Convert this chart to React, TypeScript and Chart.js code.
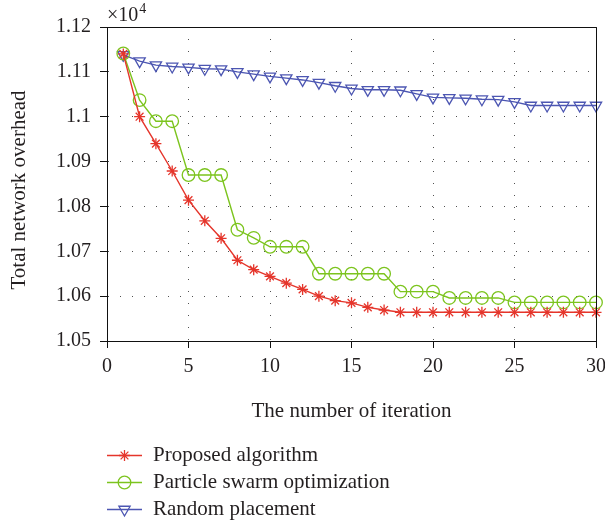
import React, { useEffect, useRef } from 'react';
import { Chart, registerables } from 'chart.js';
import { drawPoint } from 'chart.js/helpers';

Chart.register(...registerables);

// ---- data ----
const iterations = [1, 2, 3, 4, 5, 6, 7, 8, 9, 10, 11, 12, 13, 14, 15, 16, 17, 18, 19, 20, 21, 22, 23, 24, 25, 26, 27, 28, 29, 30];
const proposedAlgorithm = [1.1140, 1.1000, 1.0940, 1.0879, 1.0814, 1.0768, 1.0729, 1.0680, 1.0659, 1.0644, 1.0629, 1.0615, 1.0600, 1.0590, 1.0585, 1.0575, 1.0569, 1.0564, 1.0564, 1.0564, 1.0564, 1.0564, 1.0564, 1.0564, 1.0564, 1.0564, 1.0564, 1.0564, 1.0564, 1.0564];
const particleSwarm = [1.1141, 1.1037, 1.0990, 1.0990, 1.0870, 1.0870, 1.0870, 1.0748, 1.0730, 1.0710, 1.0710, 1.0710, 1.0650, 1.0650, 1.0650, 1.0650, 1.0650, 1.0610, 1.0610, 1.0610, 1.0596, 1.0596, 1.0596, 1.0596, 1.0586, 1.0586, 1.0586, 1.0586, 1.0586, 1.0586];
const randomPlacement = [1.1138, 1.1124, 1.1115, 1.1112, 1.1110, 1.1107, 1.1106, 1.1100, 1.1095, 1.1090, 1.1086, 1.1082, 1.1076, 1.1069, 1.1063, 1.1060, 1.1060, 1.1059, 1.1051, 1.1043, 1.1042, 1.1041, 1.1039, 1.1038, 1.1033, 1.1025, 1.1025, 1.1025, 1.1025, 1.1025];
const seriesNames = ['Proposed algorithm', 'Particle swarm optimization', 'Random placement'];
const xTicks = [0, 5, 10, 15, 20, 25, 30];
const yTicks = [1.05, 1.06, 1.07, 1.08, 1.09, 1.1, 1.11, 1.12];
const yTickLabels = ['1.05', '1.06', '1.07', '1.08', '1.09', '1.1', '1.11', '1.12'];
const yMultiplierBase = '×10';
const yMultiplierExp = '4';
const xTitle = 'The number of iteration';
const yTitle = 'Total network overhead';

// ---- style ----
const FONT = '"Liberation Serif", "Times New Roman", serif';
const TEXT = '#231f20';
const RED = '#e5352b';
const GREEN = '#7cc41e';
const BLUE = '#4c56b2';
const GRID = 'rgba(50,50,50,0.85)';

const toPoints = (ys: number[]) => ys.map((y, i) => ({ x: iterations[i], y }));

const framePlugin = {
  id: 'frame',
  afterDraw(chart: any) {
    const { ctx, chartArea } = chart;
    ctx.save();
    ctx.setLineDash([]);
    ctx.strokeStyle = '#111';
    ctx.lineWidth = 1;
    ctx.beginPath();
    ctx.moveTo(Math.round(chartArea.left) + 0.5, Math.round(chartArea.top) + 0.5);
    ctx.lineTo(Math.round(chartArea.right) + 0.5, Math.round(chartArea.top) + 0.5);
    ctx.lineTo(Math.round(chartArea.right) + 0.5, Math.round(chartArea.bottom) + 0.5);
    ctx.stroke();
    // multiplier
    ctx.fillStyle = TEXT;
    ctx.textBaseline = 'alphabetic';
    ctx.textAlign = 'left';
    ctx.font = `20px ${FONT}`;
    const x0 = chartArea.left;
    ctx.fillText(yMultiplierBase, x0, 21);
    const w = ctx.measureText(yMultiplierBase).width;
    ctx.font = `14px ${FONT}`;
    ctx.fillText(yMultiplierExp, x0 + w + 1, 13);
    // y axis title
    ctx.save();
    ctx.translate(25, 190);
    ctx.rotate(-Math.PI / 2);
    ctx.font = `21px ${FONT}`;
    ctx.textAlign = 'center';
    ctx.textBaseline = 'alphabetic';
    ctx.fillText(yTitle, 0, 0);
    ctx.restore();
    ctx.restore();
  },
};

const legendPlugin = {
  id: 'customLegend',
  afterDraw(chart: any) {
    const { ctx, chartArea } = chart;
    ctx.save();
    chart.data.datasets.forEach((ds: any, i: number) => {
      const y = 455.5 + i * 27;
      const x1 = chartArea.left;
      const x2 = x1 + 35;
      ctx.strokeStyle = ds.borderColor;
      ctx.lineWidth = ds.borderWidth;
      ctx.setLineDash([]);
      ctx.beginPath();
      ctx.moveTo(x1, y);
      ctx.lineTo(x2, y);
      ctx.stroke();
      ctx.fillStyle = 'rgba(0,0,0,0)';
      ctx.strokeStyle = ds.pointBorderColor;
      ctx.lineWidth = ds.pointBorderWidth;
      drawPoint(ctx, {
        pointStyle: ds.pointStyle,
        radius: ds.pointRadius,
        rotation: ds.pointRotation || 0,
        borderWidth: ds.pointBorderWidth,
      } as any, (x1 + x2) / 2, y);
      ctx.fillStyle = TEXT;
      ctx.font = `21px ${FONT}`;
      ctx.textAlign = 'left';
      ctx.textBaseline = 'alphabetic';
      ctx.fillText(ds.label, x1 + 46, y + 5.5);
    });
    ctx.restore();
  },
};

export default function App() {
  const ref = useRef<HTMLCanvasElement | null>(null);
  useEffect(() => {
    if (!ref.current) return;
    Chart.defaults.font.family = FONT;
    Chart.defaults.color = TEXT;
    const common = { borderWidth: 1.4, pointBorderWidth: 1.3, pointBackgroundColor: 'rgba(0,0,0,0)', clip: false as any, tension: 0 };
    const gridOpts = { color: GRID, tickBorderDash: [], tickColor: '#111', tickLength: 7, lineWidth: 1 } as any;
    const borderOpts = { display: true, color: '#111', width: 1, dash: [1, 11] } as any;
    const chart = new Chart(ref.current, {
      type: 'line',
      data: {
        datasets: [
          { ...common, label: seriesNames[0], data: toPoints(proposedAlgorithm), borderColor: RED, pointBorderColor: RED, pointStyle: 'star', pointRadius: 5.5 },
          { ...common, label: seriesNames[1], data: toPoints(particleSwarm), borderColor: GREEN, pointBorderColor: GREEN, pointStyle: 'circle', pointRadius: 6.3 },
          { ...common, label: seriesNames[2], data: toPoints(randomPlacement), borderColor: BLUE, pointBorderColor: BLUE, pointStyle: 'triangle', pointRotation: 180, pointRadius: 6.5 },
        ] as any,
      },
      options: {
        animation: false,
        responsive: false,
        maintainAspectRatio: false,
        devicePixelRatio: 1,
        layout: { padding: { left: 0, top: 27, right: 9, bottom: 93 } },
        plugins: { legend: { display: false }, tooltip: { enabled: false } },
        scales: {
          x: {
            type: 'linear',
            min: 0,
            max: 30,
            afterBuildTicks: (s: any) => { s.ticks = xTicks.map((v) => ({ value: v })); },
            afterFit: (s: any) => { s.height = 90; s.paddingLeft = 0; s.paddingRight = 0; },
            ticks: { font: { size: 20 }, color: TEXT, padding: 7, maxRotation: 0 },
            grid: gridOpts,
            border: borderOpts,
            title: { display: true, text: xTitle, font: { size: 21 }, color: TEXT, padding: { top: 0, bottom: 7 } },
          },
          y: {
            type: 'linear',
            min: 1.05,
            max: 1.12,
            afterBuildTicks: (s: any) => { s.ticks = yTicks.map((v) => ({ value: v })); },
            afterFit: (s: any) => { s.width = 107; s.paddingTop = 0; s.paddingBottom = 0; },
            ticks: { font: { size: 20 }, color: TEXT, padding: 9, callback: (_v: any, i: number) => yTickLabels[i] },
            grid: gridOpts,
            border: borderOpts,
            title: { display: false },
          },
        },
      } as any,
      plugins: [framePlugin, legendPlugin],
    });
    return () => chart.destroy();
  }, []);
  return (
    <div style={{ position: 'absolute', left: 0, top: 0, width: 605, height: 524, background: '#fff' }}>
      <canvas ref={ref} width={605} height={524} style={{ display: 'block' }} />
    </div>
  );
}
